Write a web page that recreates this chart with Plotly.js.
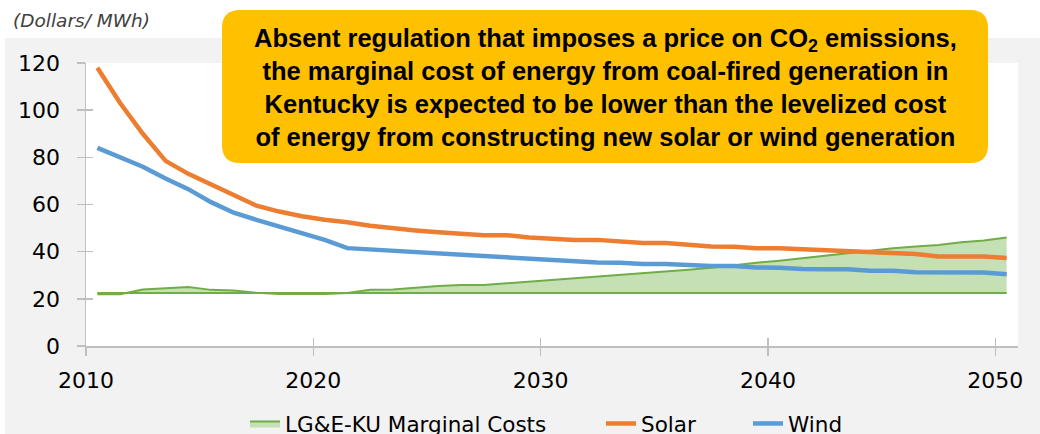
<!DOCTYPE html>
<html>
<head>
<meta charset="utf-8">
<script src="https://cdn.plot.ly/plotly-3.0.1.min.js"></script>
<style>html,body{margin:0;padding:0;background:#fff;}#chart{width:1040px;height:434px;}</style>
</head>
<body>
<div id="chart"></div>
<script>
// Years (points plotted at mid-year)
const years = [2010,2011,2012,2013,2014,2015,2016,2017,2018,2019,2020,2021,2022,2023,2024,2025,2026,2027,2028,2029,2030,2031,2032,2033,2034,2035,2036,2037,2038,2039,2040,2041,2042,2043,2044,2045,2046,2047,2048,2049,2050];
const solar = [118,103,90,78.5,73,68.5,63.5,59.5,57,55,53.5,52.5,51,49.8,49,48.2,47.5,47,47,46,45.5,45,45,44.3,43.7,43.7,43,42.2,42.1,41.5,41.4,41,40.4,40.3,39.7,39.6,39,38,37.9,37.9,37.3];
const wind = [84,80,76,71,66.5,61,56.5,53.5,50.5,47.5,45,41.5,41,40.3,39.7,39.6,39,38.2,37.6,37,36.4,36.2,35.4,35.3,34.8,34.8,34.2,33.9,33.9,33.3,33.2,32.6,32.5,32.5,31.9,31.9,31.3,31.2,31.2,31.2,30.4];
const marginal = [21.9,21.9,24,24.5,25,23.8,23.5,22.6,22,22,22,22.5,23.8,24,24.8,25.4,25.9,25.9,26.6,27.3,28,28.6,29.3,29.9,30.6,31.3,32.3,33.2,34.4,35.3,36.2,37.3,38.2,39.5,40.6,41.4,42.2,42.8,44,44.7,46];
const marginalBase = [22.5,22.5,22.5,22.5,22.5,22.5,22.5,22.5,22.5,22.5,22.5,22.5,22.5,22.5,22.5,22.5,22.5,22.5,22.5,22.5,22.5,22.5,22.5,22.5,22.5,22.5,22.5,22.5,22.5,22.5,22.5,22.5,22.5,22.5,22.5,22.5,22.5,22.5,22.5,22.5,22.5];
const xTicks = [2010,2020,2030,2040,2050];
const yTicks = [0,20,40,60,80,100,120];
const seriesNames = ['LG&E-KU Marginal Costs','Solar','Wind'];
const yUnit = '(Dollars/ MWh)';
const calloutText = 'Absent regulation that imposes a price on CO<sub>2</sub> emissions,<br>the marginal cost of energy from coal-fired generation in<br>Kentucky is expected to be lower than the levelized cost<br>of energy from constructing new solar or wind generation';

const xs = years.map(y => y + 0.5);

const tickFontFamily = 'DejaVu Sans, Liberation Sans, sans-serif';

const traces = [
  {x: xs, y: marginalBase, type: 'scatter', mode: 'lines', line: {color: '#70AD47', width: 2}, showlegend: false, hoverinfo: 'skip'},
  {x: xs, y: marginal, type: 'scatter', mode: 'lines', fill: 'tonexty', fillcolor: '#C5E0B4', line: {color: '#70AD47', width: 2}, name: seriesNames[0], legend: 'legend'},
  {x: xs, y: solar, type: 'scatter', mode: 'lines', line: {color: '#ED7D31', width: 4.5}, name: seriesNames[1], legend: 'legend2'},
  {x: xs, y: wind, type: 'scatter', mode: 'lines', line: {color: '#5B9BD5', width: 4.5}, name: seriesNames[2], legend: 'legend3'},
  {x: [], y: [], xaxis: 'x2', yaxis: 'y2', type: 'scatter', mode: 'lines', showlegend: false, hoverinfo: 'skip'}
];

// paper coordinate helpers (plot area: x 86..1018 px, y 63..346 px)
const L = 86, R = 1018, T = 63, B = 346;
const px = v => (v - L) / (R - L);
const py = v => (B - v) / (B - T);

function roundRect(x0, y0, x1, y1, r) {
  const rx = r / (R - L), ry = r / (B - T);
  const a = px(x0), b = px(x1), top = py(y0), bot = py(y1);
  return `M ${a+rx},${top} L ${b-rx},${top} Q ${b},${top} ${b},${top-ry} L ${b},${bot+ry} Q ${b},${bot} ${b-rx},${bot} L ${a+rx},${bot} Q ${a},${bot} ${a},${bot+ry} L ${a},${top-ry} Q ${a},${top} ${a+rx},${top} Z`;
}

function legendAt(xPix) {
  return {orientation: 'h', traceorder: 'normal', x: px(xPix), xanchor: 'left', y: py(403), yanchor: 'top', bgcolor: 'rgba(0,0,0,0)',
          font: {family: tickFontFamily, size: 21.5, color: '#000'}};
}

const layout = {
  width: 1040, height: 434,
  margin: {l: L, r: 1040 - R, t: T, b: 434 - B, pad: 0, autoexpand: false},
  paper_bgcolor: '#F2F2F2',
  plot_bgcolor: '#FFFFFF',
  font: {family: tickFontFamily, color: '#000000', size: 21},
  showlegend: true,
  legend: legendAt(245),
  legend2: legendAt(601),
  legend3: legendAt(748),
  xaxis: {range: [2010, 2051], tickvals: xTicks, ticktext: xTicks.map(String), ticks: 'outside', ticklen: 8, tickwidth: 1.5, tickcolor: '#BFBFBF',
          showline: true, linecolor: '#BFBFBF', linewidth: 1.5, showgrid: false, zeroline: false, ticklabelstandoff: 6,
          tickfont: {family: tickFontFamily, size: 22, color: '#000'}, fixedrange: true},
  yaxis: {range: [0, 120], tickvals: yTicks, ticks: 'outside', ticklen: 8, tickwidth: 1.5, tickcolor: '#BFBFBF',
          showline: true, linecolor: '#BFBFBF', linewidth: 1.5, showgrid: false, zeroline: false, ticklabelstandoff: 12,
          tickfont: {family: tickFontFamily, size: 22, color: '#000'}, fixedrange: true},
  xaxis2: {overlaying: 'x', anchor: 'y2', range: [2010, 2051], tickvals: xTicks, ticks: 'inside', ticklen: 8, tickwidth: 1.5, tickcolor: '#BFBFBF',
           showticklabels: false, showline: false, showgrid: false, zeroline: false, fixedrange: true},
  yaxis2: {overlaying: 'y', anchor: 'x2', range: [0, 120], tickvals: yTicks, ticks: 'inside', ticklen: 7, tickwidth: 1.5, tickcolor: '#BFBFBF',
           showticklabels: false, showline: false, showgrid: false, zeroline: false, fixedrange: true},
  shapes: [
    {type: 'rect', xref: 'paper', yref: 'paper', x0: px(0), x1: px(1040), y0: py(38), y1: py(0), fillcolor: '#FFFFFF', line: {width: 0}, layer: 'below'},
    {type: 'rect', xref: 'paper', yref: 'paper', x0: px(0), x1: px(5), y0: py(434), y1: py(0), fillcolor: '#FFFFFF', line: {width: 0}, layer: 'below'},
    {type: 'path', xref: 'paper', yref: 'paper', path: roundRect(222, 10, 988, 163, 18), fillcolor: '#FFC000', line: {width: 0}, layer: 'above'}
  ],
  annotations: [
    {xref: 'paper', yref: 'paper', x: px(11), y: py(20), xanchor: 'left', yanchor: 'middle', showarrow: false, text: yUnit,
     font: {family: tickFontFamily, size: 18.5, color: '#404040', style: 'italic'}},
    {xref: 'paper', yref: 'paper', x: px(605), y: py(87), xanchor: 'center', yanchor: 'middle', showarrow: false, align: 'center',
     text: calloutText, font: {family: 'Liberation Sans, Arial, sans-serif', size: 25.5, color: '#000', weight: 'bold'}}
  ]
};

Plotly.newPlot('chart', traces, layout, {displayModeBar: false, staticPlot: true});
</script>
</body>
</html>
